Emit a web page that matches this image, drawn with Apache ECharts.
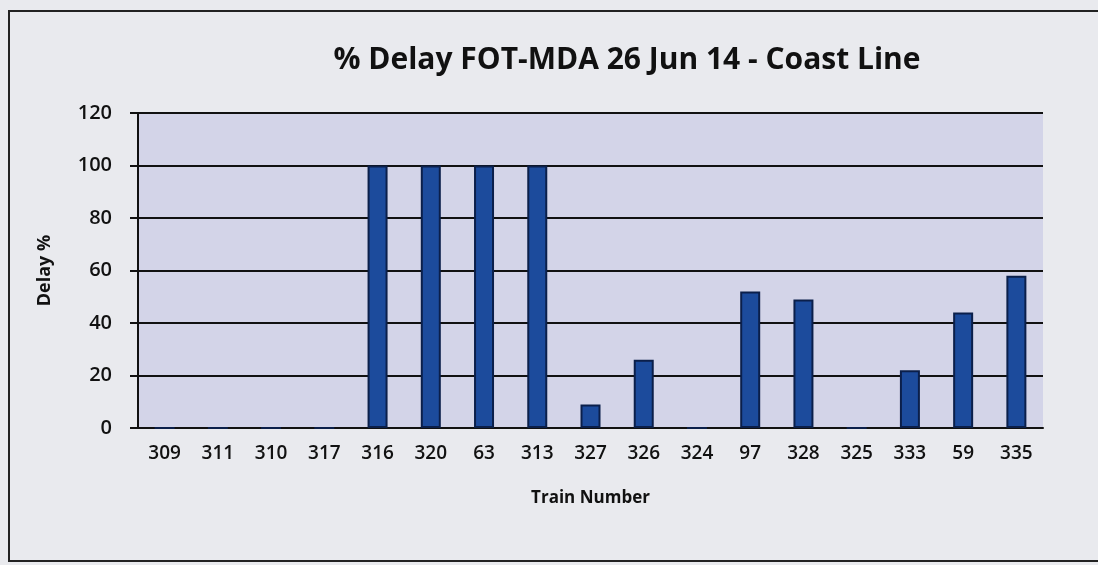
<!DOCTYPE html>
<html><head><meta charset="utf-8">
<script src="https://cdn.jsdelivr.net/npm/echarts@6/dist/echarts.min.js"></script>
<style>html,body{margin:0;padding:0;background:#e9eaee;}#c{width:1098px;height:565px;}
#frame{position:absolute;left:8px;top:10px;width:1100px;height:552px;border:2px solid #222;box-sizing:border-box;pointer-events:none;}</style>
</head><body><div id="c"></div><div id="frame"></div>
<script>
const categories = ['309','311','310','317','316','320','63','313','327','326','324','97','328','325','333','59','335'];
const delayPct = [0,0,0,0,100,100,100,100,9,26,0,52,49,0,22,44,58];
const yTicks = {min:0, max:120, interval:20};

const chart = echarts.init(document.getElementById('c'));
chart.setOption({
  backgroundColor: '#e9eaee',
  animation: false,
  title: {text: '% Delay FOT-MDA 26 Jun 14 - Coast Line', left: 622, top: 40, textAlign: 'center',
    textStyle: {fontFamily: 'Open Sans', fontWeight: 'bold', fontSize: 30, color: '#111'}},
  grid: {left: 138, right: 55, top: 113, bottom: 137, show: true, backgroundColor: '#d3d4e8', borderWidth: 0},
  xAxis: {type: 'category', data: categories, name: 'Train Number', nameLocation: 'middle', nameGap: 62,
    nameTextStyle: {fontFamily: 'Open Sans', fontWeight: 'bold', fontSize: 17, color: '#111'},
    axisLine: {lineStyle: {color: '#111', width: 2}}, axisTick: {show: false},
    axisLabel: {fontFamily: 'Open Sans', fontWeight: 600, fontSize: 19, color: '#111', margin: 16}},
  yAxis: {type: 'value', min: yTicks.min, max: yTicks.max, interval: yTicks.interval, name: 'Delay %',
    nameLocation: 'middle', nameGap: 84, nameRotate: 90,
    nameTextStyle: {fontFamily: 'Open Sans', fontWeight: 'bold', fontSize: 18, color: '#111'},
    axisLine: {show: true, lineStyle: {color: '#111', width: 2}},
    axisTick: {show: true, length: 8, lineStyle: {color: '#111', width: 2}},
    splitLine: {lineStyle: {color: '#111', width: 2}},
    axisLabel: {fontFamily: 'Open Sans', fontWeight: 600, fontSize: 20, color: '#111', margin: 26}},
  series: [{type: 'bar', data: delayPct, barWidth: 20,
    itemStyle: {color: '#1c4b9c', borderColor: '#0b1f4a', borderWidth: 2}}]
});
</script></body></html>
